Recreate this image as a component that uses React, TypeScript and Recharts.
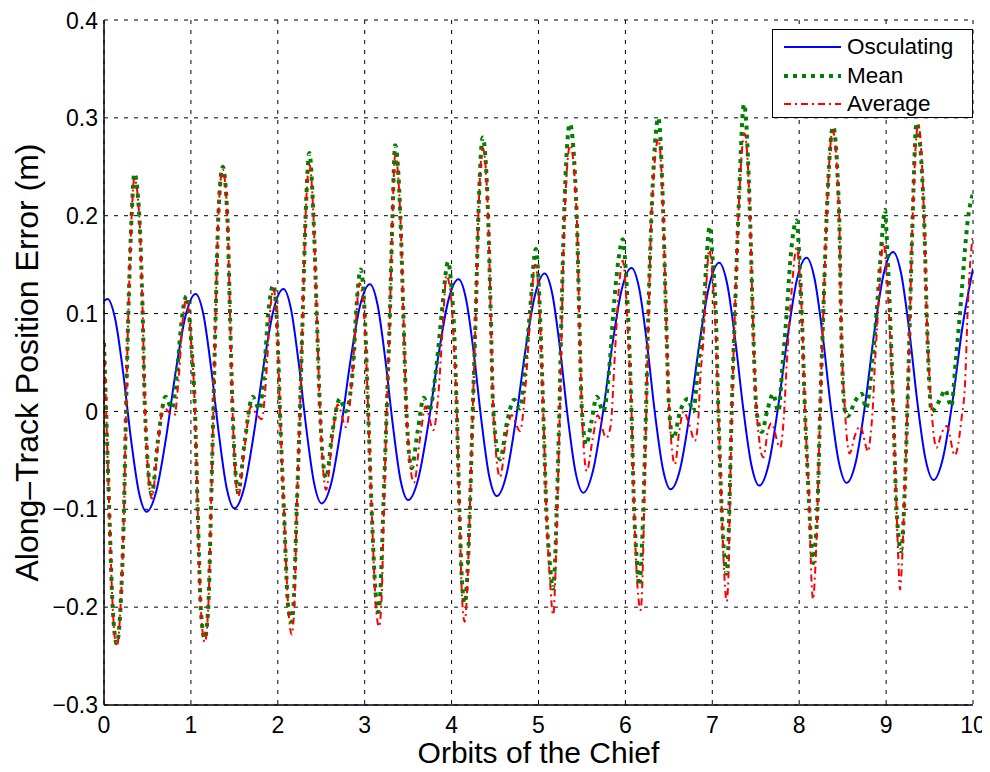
import { LineChart, Line, XAxis, YAxis, CartesianGrid, Legend } from 'recharts'

const FONT = '"Liberation Sans", Arial, Helvetica, sans-serif'

// x in orbits, y in metres
const osculating: [number, number][] = [
  [0, 0.113], [0.04, 0.115], [0.13, 0.094], [0.22, 0.04], [0.31, -0.028], [0.4, -0.082], [0.49, -0.1025],
  [0.603, -0.081], [0.716, -0.026], [0.829, 0.043], [0.942, 0.099], [1.055, 0.12],
  [1.144, 0.099], [1.233, 0.044], [1.322, -0.023], [1.411, -0.078], [1.5, -0.099],
  [1.613, -0.078], [1.726, -0.022], [1.839, 0.048], [1.952, 0.104], [2.065, 0.125],
  [2.153, 0.104], [2.241, 0.049], [2.329, -0.018], [2.417, -0.073], [2.505, -0.094],
  [2.616, -0.073], [2.727, -0.017], [2.838, 0.053], [2.949, 0.109], [3.06, 0.13],
  [3.148, 0.109], [3.236, 0.054], [3.324, -0.014], [3.412, -0.07], [3.5, -0.0905],
  [3.616, -0.069], [3.732, -0.013], [3.848, 0.057], [3.964, 0.114], [4.08, 0.135],
  [4.168, 0.114], [4.256, 0.059], [4.344, -0.01], [4.432, -0.066], [4.52, -0.0865],
  [4.63, -0.065], [4.74, -0.008], [4.85, 0.063], [4.96, 0.119], [5.07, 0.141],
  [5.159, 0.12], [5.248, 0.064], [5.337, -0.006], [5.426, -0.062], [5.515, -0.083],
  [5.626, -0.061], [5.737, -0.004], [5.848, 0.067], [5.959, 0.125], [6.07, 0.1465],
  [6.16, 0.125], [6.25, 0.068], [6.34, -0.002], [6.43, -0.058], [6.52, -0.0796],
  [6.632, -0.058], [6.744, 0.0], [6.856, 0.072], [6.968, 0.13], [7.08, 0.152],
  [7.172, 0.13], [7.264, 0.073], [7.356, 0.003], [7.448, -0.054], [7.54, -0.0758],
  [7.649, -0.054], [7.758, 0.005], [7.868, 0.077], [7.977, 0.136], [8.086, 0.157],
  [8.178, 0.135], [8.27, 0.078], [8.362, 0.006], [8.454, -0.051], [8.546, -0.073],
  [8.653, -0.051], [8.76, 0.008], [8.866, 0.082], [8.973, 0.141], [9.08, 0.163],
  [9.173, 0.141], [9.266, 0.083], [9.359, 0.01], [9.452, -0.048], [9.545, -0.07],
  [9.656, -0.047], [9.767, 0.012], [9.878, 0.086], [10, 0.146],
]

const mean: [number, number][] = [
  [0, 0.07], [0.025, 0], [0.06, -0.1], [0.1, -0.2], [0.146, -0.237], [0.19, -0.2], [0.23, -0.1], [0.253, 0],
  [0.28, 0.1], [0.318, 0.2], [0.349, 0.243], [0.406, 0.2], [0.445, 0.1], [0.472, 0], [0.55, -0.084],
  [0.62, -0.03], [0.71, 0.015], [0.78, 0.003], [0.85, 0.05], [0.89, 0.09], [0.95, 0.118],
  [1.0, 0.075], [1.047, 0], [1.078, -0.1], [1.113, -0.2], [1.157, -0.232], [1.2, -0.2], [1.231, -0.1],
  [1.258, 0], [1.285, 0.1], [1.316, 0.2], [1.366, 0.25], [1.419, 0.2], [1.45, 0.1], [1.48, 0],
  [1.545, -0.082], [1.62, -0.03], [1.71, 0.015], [1.79, 0.002], [1.85, 0.05], [1.89, 0.1], [1.95, 0.129],
  [2.0, 0.07], [2.025, 0], [2.07, -0.1], [2.12, -0.2], [2.16, -0.215], [2.185, -0.19], [2.218, -0.1],
  [2.255, 0], [2.287, 0.1], [2.32, 0.2], [2.363, 0.264], [2.41, 0.2], [2.448, 0.1], [2.486, 0],
  [2.555, -0.068], [2.63, -0.02], [2.715, 0.013], [2.78, 0], [2.87, 0.05], [2.9, 0.1], [2.955, 0.145],
  [3.0, 0.1], [3.04, 0], [3.08, -0.1], [3.125, -0.185], [3.155, -0.205], [3.18, -0.185], [3.214, -0.1],
  [3.253, 0], [3.29, 0.1], [3.32, 0.2], [3.35, 0.272], [3.41, 0.2], [3.445, 0.1], [3.48, 0],
  [3.54, -0.058], [3.61, -0.02], [3.68, 0.014], [3.74, 0], [3.83, 0.05], [3.886, 0.1], [3.96, 0.153],
  [4.0, 0.125], [4.02, 0.1], [4.06, 0], [4.09, -0.1], [4.12, -0.175], [4.15, -0.196], [4.18, -0.17],
  [4.21, -0.1], [4.243, 0], [4.278, 0.1], [4.308, 0.2], [4.358, 0.28], [4.42, 0.2], [4.45, 0.1],
  [4.48, 0], [4.557, -0.049], [4.64, -0.01], [4.72, 0.012], [4.787, 0.003], [4.85, 0.05], [4.9, 0.1],
  [4.97, 0.166],
  [5.0, 0.135], [5.017, 0.1], [5.055, 0], [5.09, -0.1], [5.13, -0.155], [5.165, -0.181], [5.19, -0.155],
  [5.21, -0.1], [5.24, 0], [5.265, 0.1], [5.295, 0.2], [5.36, 0.294], [5.44, 0.2], [5.468, 0.1],
  [5.5, 0], [5.55, -0.034], [5.61, -0.01], [5.67, 0.015], [5.745, 0], [5.82, 0.05], [5.86, 0.1],
  [5.92, 0.155], [5.97, 0.176],
  [6.0, 0.15], [6.03, 0.1], [6.07, 0], [6.1, -0.1], [6.13, -0.15], [6.16, -0.178], [6.185, -0.15],
  [6.206, -0.1], [6.237, 0], [6.264, 0.1], [6.3, 0.2], [6.38, 0.3], [6.436, 0.2], [6.467, 0.1],
  [6.505, 0], [6.55, -0.028], [6.63, 0], [6.72, 0.013], [6.78, 0], [6.84, 0.05], [6.9, 0.1],
  [6.93, 0.15], [6.97, 0.189],
  [7.0, 0.16], [7.04, 0.1], [7.07, 0], [7.108, -0.1], [7.14, -0.15], [7.165, -0.166], [7.18, -0.15],
  [7.196, -0.1], [7.223, 0], [7.26, 0.1], [7.3, 0.2], [7.365, 0.314], [7.434, 0.2], [7.465, 0.1],
  [7.51, 0], [7.57, -0.021], [7.63, 0], [7.7, 0.018], [7.76, 0], [7.81, 0.05], [7.856, 0.1],
  [7.894, 0.15], [7.97, 0.195],
  [8.0, 0.16], [8.03, 0.1], [8.067, 0], [8.117, -0.1], [8.14, -0.14], [8.16, -0.155], [8.18, -0.14],
  [8.21, -0.1], [8.24, 0], [8.277, 0.1], [8.316, 0.2], [8.39, 0.291], [8.46, 0.2], [8.48, 0.1],
  [8.527, 0], [8.56, -0.005], [8.64, 0.01], [8.72, 0.018], [8.77, 0.003], [8.84, 0.05], [8.89, 0.1],
  [8.93, 0.15], [8.99, 0.206],
  [9.0, 0.19], [9.045, 0.1], [9.083, 0], [9.12, -0.1], [9.145, -0.13], [9.167, -0.143], [9.19, -0.13],
  [9.206, -0.1], [9.244, 0], [9.275, 0.1], [9.306, 0.2], [9.35, 0.295], [9.436, 0.2], [9.467, 0.1],
  [9.524, 0], [9.56, 0.003], [9.62, 0.012], [9.68, 0.022], [9.75, 0.005], [9.8, 0.05], [9.85, 0.1],
  [9.946, 0.2], [10, 0.223],
]

const average: [number, number][] = [
  [0, 0.07], [0.025, 0], [0.06, -0.1], [0.1, -0.2], [0.146, -0.24], [0.19, -0.2], [0.23, -0.1], [0.253, 0],
  [0.28, 0.1], [0.318, 0.2], [0.349, 0.238], [0.406, 0.2], [0.445, 0.1], [0.472, 0], [0.55, -0.089],
  [0.62, -0.035], [0.683, 0.005], [0.74, 0], [0.81, -0.004], [0.86, 0.035], [0.913, 0.1], [0.95, 0.115],
  [1.0, 0.075], [1.047, 0], [1.078, -0.1], [1.113, -0.2], [1.16, -0.236], [1.2, -0.2], [1.231, -0.1],
  [1.258, 0], [1.285, 0.1], [1.316, 0.2], [1.366, 0.247], [1.419, 0.2], [1.45, 0.1], [1.48, 0],
  [1.545, -0.087], [1.62, -0.035], [1.69, 0.005], [1.75, -0.002], [1.815, -0.008], [1.87, 0.04],
  [1.91, 0.1], [1.95, 0.125],
  [2.0, 0.07], [2.025, 0], [2.07, -0.1], [2.12, -0.2], [2.16, -0.228], [2.19, -0.2], [2.218, -0.1],
  [2.255, 0], [2.287, 0.1], [2.32, 0.2], [2.365, 0.252], [2.41, 0.2], [2.448, 0.1], [2.486, 0],
  [2.555, -0.08], [2.63, -0.025], [2.69, 0.007], [2.785, -0.016], [2.85, 0.029], [2.888, 0.077],
  [2.94, 0.131],
  [3.0, 0.09], [3.04, 0], [3.08, -0.1], [3.13, -0.2], [3.165, -0.22], [3.195, -0.19], [3.22, -0.1],
  [3.253, 0], [3.29, 0.1], [3.32, 0.2], [3.35, 0.262], [3.41, 0.2], [3.445, 0.1], [3.48, 0],
  [3.567, -0.073], [3.64, -0.025], [3.7, 0.005], [3.79, -0.019], [3.85, 0.02], [3.9, 0.09], [3.94, 0.139],
  [4.0, 0.11], [4.02, 0.08], [4.06, 0], [4.09, -0.1], [4.12, -0.19], [4.15, -0.215], [4.18, -0.18],
  [4.21, -0.1], [4.243, 0], [4.278, 0.1], [4.308, 0.2], [4.36, 0.269], [4.42, 0.2], [4.45, 0.1],
  [4.48, 0], [4.557, -0.067], [4.63, -0.025], [4.69, -0.004], [4.787, -0.02], [4.85, 0.025],
  [4.9, 0.09], [4.96, 0.15],
  [5.0, 0.125], [5.017, 0.095], [5.055, 0], [5.09, -0.1], [5.13, -0.17], [5.17, -0.208], [5.195, -0.165],
  [5.215, -0.1], [5.245, 0], [5.27, 0.1], [5.3, 0.2], [5.365, 0.272], [5.44, 0.2], [5.468, 0.1],
  [5.5, 0], [5.555, -0.061], [5.62, -0.03], [5.68, -0.004], [5.78, -0.027], [5.83, -0.015],
  [5.88, 0.06], [5.92, 0.12], [5.97, 0.154],
  [6.0, 0.13], [6.03, 0.08], [6.07, 0], [6.1, -0.1], [6.14, -0.18], [6.176, -0.203], [6.2, -0.16],
  [6.215, -0.1], [6.24, 0], [6.267, 0.1], [6.3, 0.2], [6.38, 0.278], [6.436, 0.2], [6.467, 0.1],
  [6.505, 0], [6.57, -0.054], [6.62, -0.02], [6.67, 0], [6.73, -0.012], [6.8, -0.03], [6.84, -0.006],
  [6.86, 0.031], [6.9, 0.076], [6.93, 0.128], [6.965, 0.165],
  [7.0, 0.14], [7.04, 0.08], [7.07, 0], [7.108, -0.1], [7.14, -0.17], [7.165, -0.194], [7.185, -0.17],
  [7.2, -0.1], [7.225, 0], [7.26, 0.1], [7.3, 0.2], [7.37, 0.284], [7.434, 0.2], [7.465, 0.1],
  [7.51, 0], [7.587, -0.047], [7.64, -0.02], [7.68, -0.012], [7.78, -0.037], [7.82, -0.01],
  [7.855, 0.046], [7.91, 0.12], [7.97, 0.167],
  [8.01, 0.135], [8.03, 0.1], [8.067, 0], [8.117, -0.1], [8.14, -0.17], [8.16, -0.192], [8.18, -0.17],
  [8.21, -0.1], [8.24, 0], [8.277, 0.1], [8.316, 0.2], [8.385, 0.287], [8.46, 0.2], [8.48, 0.1],
  [8.527, 0], [8.58, -0.043], [8.64, -0.025], [8.7, -0.015], [8.795, -0.041], [8.82, -0.025],
  [8.845, 0.001], [8.87, 0.046], [8.91, 0.106], [8.94, 0.154], [8.97, 0.172],
  [9.0, 0.15], [9.045, 0.08], [9.083, 0], [9.12, -0.1], [9.145, -0.16], [9.16, -0.182], [9.18, -0.16],
  [9.206, -0.1], [9.244, 0], [9.275, 0.1], [9.306, 0.2], [9.37, 0.293], [9.436, 0.2], [9.467, 0.1],
  [9.524, 0], [9.58, -0.037], [9.64, -0.022], [9.7, -0.015], [9.79, -0.045], [9.87, -0.006],
  [9.91, 0.031], [9.94, 0.106], [9.98, 0.165], [10, 0.18],
]

const xTicks = [0, 1, 2, 3, 4, 5, 6, 7, 8, 9, 10]
const yTicks = [-0.3, -0.2, -0.1, 0, 0.1, 0.2, 0.3, 0.4]

const legendItems = [
  { name: 'Osculating', color: '#0000ff', width: 2, dash: undefined },
  { name: 'Mean', color: '#008000', width: 4, dash: '4 5' },
  { name: 'Average', color: '#ff0000', width: 2, dash: '7 4 2 4' },
]

const toRows = (pts: [number, number][]) => pts.map(([x, y]) => ({ x, y }))

const fmtY = (v: number) => (v === 0 ? '0' : (v < 0 ? '\u2212' : '') + Math.abs(v).toFixed(1))

function LegendBox() {
  return (
    <div style={{
      position: 'absolute', left: 764, top: 21, width: 201, height: 89, boxSizing: 'border-box',
      background: '#fff', border: '1.5px solid #000', fontFamily: FONT, fontSize: 22.5, color: '#000',
    }}>
      {legendItems.map((it, i) => (
        <div key={it.name} style={{ position: 'absolute', left: 0, top: 3 + i * 28.7, height: 28, display: 'flex', alignItems: 'center' }}>
          <svg width={74} height={28} style={{ display: 'block' }}>
            <line x1={11} x2={68} y1={14} y2={14} stroke={it.color} strokeWidth={it.width} strokeDasharray={it.dash} />
          </svg>
          <span style={{ lineHeight: '28px' }}>{it.name}</span>
        </div>
      ))}
    </div>
  )
}

export default function App() {
  return (
    <div style={{ position: 'relative', width: 982, height: 764 }}>
      <LineChart width={982} height={764} margin={{ top: 12, right: 17, left: 0, bottom: 0 }}>
        <CartesianGrid stroke="#000" strokeDasharray="4 6" strokeWidth={1} />
        <XAxis
          dataKey="x" type="number" domain={[0, 10]} ticks={xTicks} allowDataOverflow
          height={67} tickLine={false} tickSize={6} tickMargin={6}
          axisLine={{ stroke: '#000', strokeWidth: 1.5 }}
          tick={{ fontSize: 23, fill: '#000', fontFamily: FONT }}
          label={{ value: 'Orbits of the Chief', position: 'insideBottom', offset: 9, fontSize: 30, fill: '#000', fontFamily: FONT }}
        />
        <YAxis
          type="number" domain={[-0.3, 0.4]} ticks={yTicks} allowDataOverflow
          width={96} tickLine={false} tickSize={4} tickMargin={2} tickFormatter={fmtY}
          axisLine={{ stroke: '#000', strokeWidth: 1.5 }}
          tick={{ fontSize: 23, fill: '#000', fontFamily: FONT }}
          label={{
            content: (p: any) => {
              const vb = p.viewBox || { x: 0, y: 0, height: 0 }
              const cx = vb.x + 30
              const cy = vb.y + vb.height / 2
              return (
                <text x={cx} y={cy} transform={`rotate(-90 ${cx} ${cy})`} textAnchor="middle" fontSize={32} fontFamily={FONT} fill="#000">
                  Along–Track Position Error (m)
                </text>
              )
            },
          }}
        />
        <XAxis xAxisId="top" orientation="top" mirror type="number" domain={[0, 10]} ticks={xTicks} allowDataOverflow
          height={0} tick={false} tickSize={8} axisLine={{ stroke: '#000', strokeWidth: 1.5 }} tickLine={{ stroke: '#000' }} />
        <YAxis yAxisId="right" orientation="right" mirror type="number" domain={[-0.3, 0.4]} ticks={yTicks} allowDataOverflow
          width={0} tick={false} tickSize={8} axisLine={{ stroke: '#000', strokeWidth: 1.5 }} tickLine={{ stroke: '#000' }} />
        <Legend layout="vertical" align="center" verticalAlign="middle" content={() => <LegendBox />}
          wrapperStyle={{ position: 'absolute', left: 0, top: 0, width: 0, height: 0 }} />
        <Line data={toRows(osculating)} dataKey="y" name="Osculating" type="monotone" stroke="#0000ff" strokeWidth={2}
          dot={false} activeDot={false} isAnimationActive={false} />
        <Line data={toRows(mean)} dataKey="y" name="Mean" type="monotone" stroke="#008000" strokeWidth={4}
          strokeDasharray="4 5" dot={false} activeDot={false} isAnimationActive={false} />
        <Line data={toRows(average)} dataKey="y" name="Average" type="monotone" stroke="#ff0000" strokeWidth={2}
          strokeDasharray="7 4 2 4" dot={false} activeDot={false} isAnimationActive={false} />
      </LineChart>
    </div>
  )
}
